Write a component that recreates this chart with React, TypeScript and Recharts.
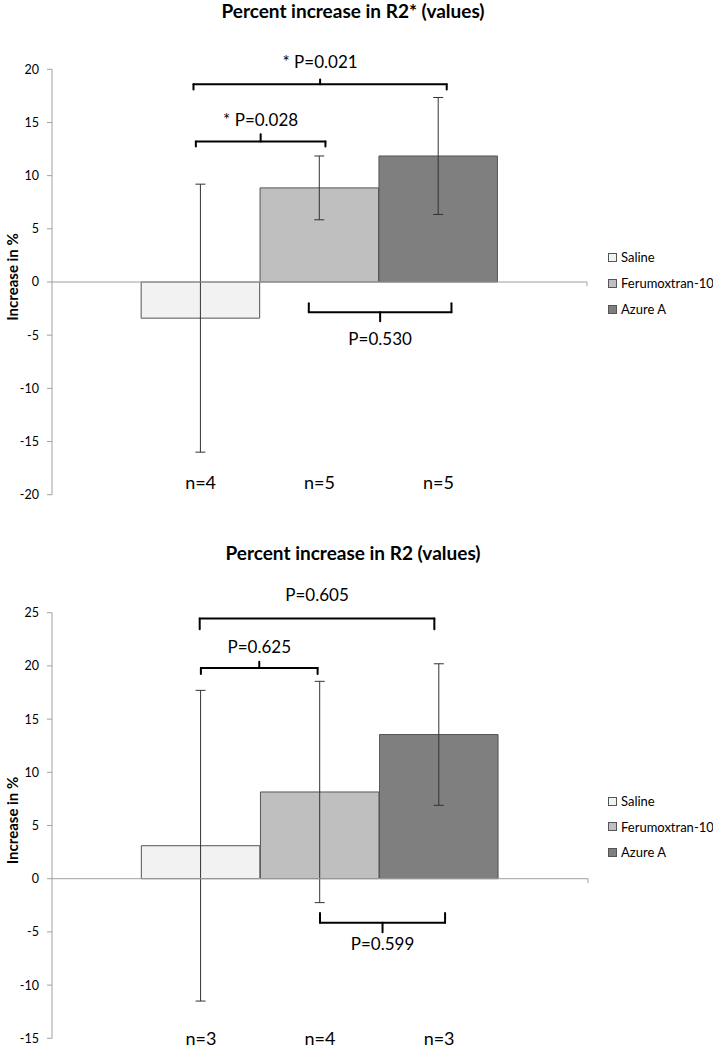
import {
  BarChart,
  Bar,
  Cell,
  XAxis,
  YAxis,
  ErrorBar,
  ReferenceLine,
  ReferenceDot,
} from "recharts";

const groups = ["Saline", "Ferumoxtran-10", "Azure A"];
const groupPos = [1, 2, 3];
const colors = ["#f2f2f2", "#bfbfbf", "#7f7f7f"];

// Percent increase in R2*
const r2sMean = [-3.4, 8.85, 11.85];
const r2sErr = [12.6, 3.0, 5.5];
const r2sN = ["n=4", "n=5", "n=5"];
const r2sTicks = [-20, -15, -10, -5, 0, 5, 10, 15, 20];

// Percent increase in R2
const r2Mean = [3.1, 8.15, 13.55];
const r2Err = [14.6, 10.4, 6.65];
const r2N = ["n=3", "n=4", "n=3"];
const r2Ticks = [-15, -10, -5, 0, 5, 10, 15, 20, 25];

type Bracket = {
  from: number;
  to: number;
  y: number;
  leg: number;
  tick: number;
  text: string;
  textY: number;
  open: "down" | "up";
};

const r2sBrackets: Bracket[] = [
  { from: 0.96, to: 2.05, y: 13.2, leg: 0.45, tick: 0.7, text: "* P=0.028", textY: 15.2, open: "down" },
  { from: 0.94, to: 3.07, y: 18.6, leg: 0.5, tick: 0.45, text: "* P=0.021", textY: 20.7, open: "down" },
  { from: 1.91, to: 3.11, y: -2.85, leg: 0.85, tick: 0.85, text: "P=0.530", textY: -5.35, open: "up" },
];

const r2Brackets: Bracket[] = [
  { from: 1.0, to: 1.98, y: 19.8, leg: 0.55, tick: 0.6, text: "P=0.625", textY: 21.75, open: "down" },
  { from: 0.99, to: 2.96, y: 24.45, leg: 1.0, tick: 0.95, text: "P=0.605", textY: 26.7, open: "down" },
  { from: 2.0, to: 3.05, y: -4.13, leg: 0.9, tick: 0.9, text: "P=0.599", textY: -6.1, open: "up" },
];

const font = "Lato, 'Open Sans', sans-serif";
const axisGrey = "#a0a0a0";

const renderBracket = (b: Bracket, i: number) => {
  const mid = (b.from + b.to) / 2;
  const dir = b.open === "down" ? -1 : 1;
  const line = { stroke: "#000", strokeWidth: 2, strokeLinecap: "round" as const };
  return [
    <ReferenceLine key={`h${i}`} segment={[{ x: b.from, y: b.y }, { x: b.to, y: b.y }]} {...line} />,
    <ReferenceLine key={`l${i}`} segment={[{ x: b.from, y: b.y }, { x: b.from, y: b.y + dir * b.leg }]} {...line} />,
    <ReferenceLine key={`r${i}`} segment={[{ x: b.to, y: b.y }, { x: b.to, y: b.y + dir * b.leg }]} {...line} />,
    <ReferenceLine key={`t${i}`} segment={[{ x: mid, y: b.y }, { x: mid, y: b.y - dir * b.tick }]} {...line} />,
    <ReferenceDot
      key={`p${i}`}
      x={mid}
      y={b.textY}
      r={0}
      fill="none"
      stroke="none"
      ifOverflow="visible"
      label={{ value: b.text, position: "center", fontSize: 17, fill: "#000", fontFamily: font }}
    />,
  ];
};

type ChartProps = {
  top: number;
  height: number;
  margin: { top: number; right: number; bottom: number; left: number };
  means: number[];
  errs: number[];
  nLabels: string[];
  nY: number;
  ticks: number[];
  brackets: Bracket[];
};

const PercentChart = ({ top, height, margin, means, errs, nLabels, nY, ticks, brackets }: ChartProps) => {
  const data = groups.map((name, i) => ({ name, pos: groupPos[i], mean: means[i], err: errs[i] }));
  return (
    <div style={{ position: "absolute", left: 0, top }}>
      <BarChart
        width={713}
        height={height}
        data={data}
        margin={margin}
        barCategoryGap={0}
        style={{ overflow: "visible" }}
      >
        <XAxis type="number" dataKey="pos" domain={[-0.25, 4.25]} allowDataOverflow hide />
        <YAxis
          type="number"
          domain={[ticks[0], ticks[ticks.length - 1]]}
          ticks={ticks}
          interval={0}
          width={52}
          tickSize={5}
          tickMargin={8}
          axisLine={{ stroke: axisGrey }}
          tickLine={{ stroke: axisGrey }}
          tick={{ fill: "#000", fontSize: 12.5, fontFamily: font }}
          label={{
            content: (p: any) => {
              const vb = p.viewBox || { y: 0, height: 0 };
              const cy = vb.y + vb.height / 2 - 5;
              return (
                <text
                  x={12}
                  y={cy}
                  transform={`rotate(-90 12 ${cy})`}
                  textAnchor="middle"
                  dominantBaseline="central"
                  fontFamily={font}
                  fontWeight={700}
                  fontSize={15}
                  fill="#000"
                >
                  Increase in %
                </text>
              );
            },
          }}
        />
        <Bar dataKey="mean" barSize={118.5} stroke="#555" strokeWidth={1} isAnimationActive={false}>
          {data.map((d, i) => (
            <Cell key={d.name} fill={colors[i]} />
          ))}
          <ErrorBar dataKey="err" width={5} stroke="#333" strokeWidth={1} direction="y" />
        </Bar>
        <ReferenceLine y={0} stroke={axisGrey} strokeWidth={1} />
        <ReferenceLine segment={[{ x: 4.25, y: 0 }, { x: 4.25, y: -0.4 }]} stroke={axisGrey} ifOverflow="visible" />
        {brackets.map((b, i) => renderBracket(b, i))}
        {nLabels.map((n, i) => (
          <ReferenceDot
            key={`n${i}`}
            x={groupPos[i]}
            y={nY}
            r={0}
            fill="none"
            stroke="none"
            ifOverflow="visible"
            label={{ value: n, position: "center", fontSize: 18, fill: "#000", fontFamily: font }}
          />
        ))}
      </BarChart>
    </div>
  );
};

const Legend = ({ top, gap }: { top: number; gap: number }) => (
  <>
    {groups.map((g, i) => (
      <div
        key={g}
        style={{
          position: "absolute",
          left: 608,
          top: top + i * gap,
          display: "flex",
          alignItems: "center",
          fontFamily: font,
          fontSize: 13,
          lineHeight: "16px",
          whiteSpace: "nowrap",
        }}
      >
        <span
          style={{
            display: "inline-block",
            width: 7,
            height: 7,
            background: colors[i],
            border: "1px solid #555",
            marginRight: 4,
          }}
        />
        {g}
      </div>
    ))}
  </>
);

const titleStyle = (top: number) => ({
  position: "absolute" as const,
  left: 0,
  width: 706,
  top,
  textAlign: "center" as const,
  fontFamily: font,
  fontWeight: 700,
  fontSize: 19,
  lineHeight: "20px",
  whiteSpace: "nowrap" as const,
});

export default function App() {
  return (
    <div style={{ position: "fixed", left: 0, top: 0, width: 713, height: 1050, background: "#fff", overflow: "hidden" }}>
      <div style={titleStyle(1)}>Percent increase in R2* (values)</div>
      <PercentChart
        top={0}
        height={510}
        margin={{ top: 69.3, right: 126, bottom: 15.3, left: 0 }}
        means={r2sMean}
        errs={r2sErr}
        nLabels={r2sN}
        nY={-18.9}
        ticks={r2sTicks}
        brackets={r2sBrackets}
      />
      <Legend top={249} gap={26} />

      <div style={titleStyle(543)}>Percent increase in R2 (values)</div>
      <PercentChart
        top={510}
        height={540}
        margin={{ top: 102.7, right: 125, bottom: 11.7, left: 0 }}
        means={r2Mean}
        errs={r2Err}
        nLabels={r2N}
        nY={-15.05}
        ticks={r2Ticks}
        brackets={r2Brackets}
      />
      <Legend top={793} gap={25.5} />
    </div>
  );
}
